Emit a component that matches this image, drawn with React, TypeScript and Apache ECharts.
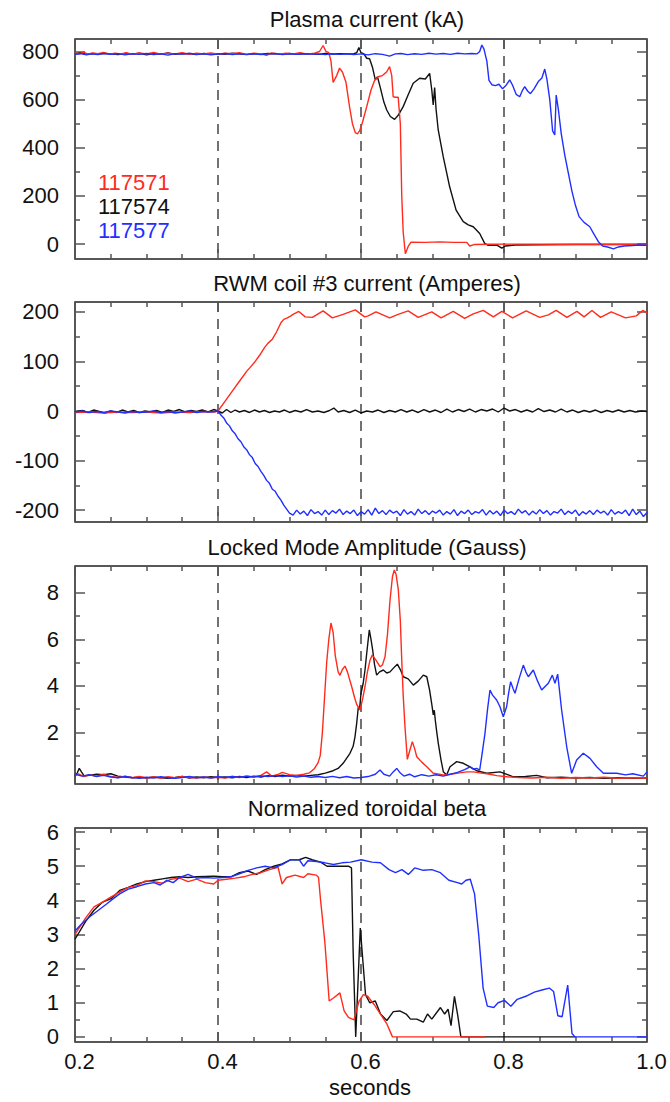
import React, { useEffect, useRef } from "react";
import * as echarts from "echarts";

// ---------- texts ----------
const panelTitles = [
  "Plasma current (kA)",
  "RWM coil #3 current (Amperes)",
  "Locked Mode Amplitude (Gauss)",
  "Normalized toroidal beta",
];
const shots = ["117571", "117574", "117577"];
const shotColors = ["#ff2b1c", "#111111", "#1f2fff"];
const xName = "seconds";

// ---------- axes ----------
const xMin = 0.2;
const xMax = 1.0;
const xStep = 0.2;

const yRanges = [
  [-62, 852],
  [-224, 220],
  [-0.22, 9.15],
  [-0.15, 6.12],
];
const yMajor = [
  [0, 200, 400, 600, 800],
  [-200, -100, 0, 100, 200],
  [2, 4, 6, 8],
  [0, 1, 2, 3, 4, 5, 6],
];
const yMinor = [
  [100, 300, 500, 700],
  [-150, -50, 50, 150],
  [1, 3, 5, 7],
  [0.5, 1.5, 2.5, 3.5, 4.5, 5.5],
];

// ---------- Panel 1: plasma current (kA) ----------
const p1Red = [
  [0.2, 795], [0.206, 790], [0.212, 797], [0.218, 789], [0.225, 794], [0.232, 791], [0.24, 796], [0.248, 789],
  [0.256, 793], [0.264, 790], [0.272, 795], [0.28, 788], [0.29, 794], [0.3, 790], [0.31, 796], [0.32, 789],
  [0.33, 793], [0.34, 790], [0.35, 795], [0.36, 788], [0.37, 793], [0.38, 790], [0.39, 794], [0.4, 789],
  [0.41, 793], [0.42, 791], [0.43, 795], [0.44, 788], [0.45, 793], [0.46, 790], [0.468, 784], [0.475, 794],
  [0.485, 789], [0.495, 793], [0.505, 790], [0.515, 795], [0.525, 789], [0.535, 793], [0.542, 800], [0.547, 825],
  [0.551, 800], [0.555, 795], [0.558, 760], [0.561, 672], [0.566, 700], [0.57, 731], [0.574, 715], [0.579, 672],
  [0.584, 570], [0.588, 500], [0.592, 463], [0.595, 458], [0.598, 470], [0.602, 505], [0.608, 571], [0.614, 640],
  [0.619, 680], [0.624, 695], [0.63, 700], [0.636, 716], [0.64, 737], [0.643, 700], [0.645, 612], [0.648, 610],
  [0.652, 610], [0.655, 500], [0.657, 200], [0.659, 50], [0.662, -40], [0.666, -10], [0.67, 8], [0.69, 7],
  [0.71, 9], [0.73, 7], [0.748, 7], [0.752, -8], [0.758, -2], [0.78, -1], [0.82, 0], [0.88, -1], [0.94, 0], [1.0, -1],
];
const p1Black = [
  [0.2, 790], [0.208, 794], [0.216, 789], [0.224, 792], [0.232, 788], [0.24, 793], [0.25, 790], [0.26, 787],
  [0.27, 792], [0.28, 789], [0.29, 793], [0.3, 786], [0.31, 791], [0.32, 789], [0.33, 794], [0.34, 788],
  [0.35, 792], [0.36, 790], [0.37, 787], [0.38, 792], [0.39, 789], [0.4, 791], [0.41, 788], [0.42, 793],
  [0.43, 790], [0.44, 787], [0.45, 791], [0.46, 789], [0.47, 792], [0.48, 790], [0.49, 788], [0.5, 792],
  [0.51, 789], [0.52, 791], [0.53, 790], [0.54, 788], [0.55, 792], [0.56, 789], [0.57, 791], [0.58, 790],
  [0.59, 791], [0.594, 795], [0.597, 817], [0.6, 795], [0.604, 790], [0.608, 772], [0.612, 770], [0.616, 735],
  [0.62, 682], [0.623, 695], [0.627, 650], [0.632, 590], [0.636, 557], [0.641, 530], [0.647, 518], [0.652, 535],
  [0.659, 571], [0.666, 620], [0.673, 668], [0.682, 689], [0.69, 686], [0.696, 709], [0.699, 640], [0.701, 578],
  [0.703, 650], [0.705, 560], [0.708, 474], [0.715, 363], [0.724, 238], [0.733, 141], [0.743, 93], [0.75, 80],
  [0.757, 72], [0.766, 44], [0.773, 3], [0.778, -5], [0.79, -4], [0.797, -17], [0.802, -8], [0.815, -4],
  [0.85, -3], [0.9, -2], [0.95, -2], [1.0, -2],
];
const p1Blue = [
  [0.2, 788], [0.208, 791], [0.216, 786], [0.224, 790], [0.232, 787], [0.24, 792], [0.25, 788], [0.26, 791],
  [0.27, 786], [0.28, 790], [0.29, 788], [0.3, 792], [0.31, 787], [0.32, 790], [0.33, 785], [0.34, 791],
  [0.35, 789], [0.36, 793], [0.37, 788], [0.38, 790], [0.39, 786], [0.4, 789], [0.41, 792], [0.42, 787],
  [0.43, 790], [0.44, 788], [0.45, 791], [0.46, 787], [0.47, 790], [0.48, 792], [0.49, 787], [0.5, 790],
  [0.51, 788], [0.52, 791], [0.53, 789], [0.54, 790], [0.55, 787], [0.56, 791], [0.57, 788], [0.58, 790],
  [0.59, 787], [0.6, 790], [0.61, 786], [0.62, 791], [0.63, 788], [0.64, 781], [0.648, 790], [0.656, 792],
  [0.665, 787], [0.675, 791], [0.685, 788], [0.695, 793], [0.705, 789], [0.715, 792], [0.725, 788], [0.735, 793],
  [0.745, 790], [0.755, 792], [0.762, 790], [0.766, 800], [0.769, 827], [0.772, 810], [0.776, 760], [0.779, 680],
  [0.783, 662], [0.788, 658], [0.793, 664], [0.798, 645], [0.803, 660], [0.808, 682], [0.812, 660], [0.817, 622],
  [0.822, 612], [0.826, 640], [0.829, 654], [0.833, 636], [0.837, 625], [0.842, 645], [0.848, 675], [0.853, 690],
  [0.857, 727], [0.86, 685], [0.864, 600], [0.868, 470], [0.871, 453], [0.873, 619], [0.876, 560], [0.88, 460],
  [0.885, 370], [0.89, 295], [0.895, 220], [0.9, 160], [0.905, 114], [0.912, 90], [0.92, 72], [0.926, 40],
  [0.932, 10], [0.938, -8], [0.945, -12], [0.953, -20], [0.96, -12], [0.968, -8], [0.98, -6], [0.99, -4], [1.0, -5],
];

// ---------- Panel 2: RWM coil #3 current (A) ----------
const p2Red = [
  [0.2, -3], [0.22, -2], [0.24, -4], [0.26, -2], [0.28, -3], [0.3, -2], [0.32, -4], [0.34, -2], [0.36, -3],
  [0.38, -1], [0.395, -2], [0.4, 0], [0.41, 20], [0.42, 40], [0.43, 60], [0.44, 80], [0.445, 88], [0.452, 100],
  [0.458, 112], [0.465, 128], [0.47, 137], [0.476, 145], [0.482, 160], [0.488, 178], [0.492, 185], [0.497, 188],
  [0.502, 192], [0.505, 195], [0.513, 201], [0.522, 190], [0.532, 189], [0.547, 202], [0.56, 188], [0.575, 195],
  [0.592, 204], [0.605, 190], [0.61, 192], [0.621, 200], [0.64, 188], [0.652, 195], [0.666, 202], [0.68, 189],
  [0.699, 200], [0.712, 188], [0.729, 201], [0.745, 187], [0.757, 196], [0.771, 203], [0.785, 190], [0.797, 201],
  [0.812, 188], [0.831, 202], [0.85, 189], [0.862, 194], [0.873, 203], [0.888, 189], [0.902, 201], [0.912, 190],
  [0.923, 203], [0.935, 189], [0.95, 200], [0.97, 188], [0.985, 192], [0.994, 203], [1.0, 198],
];
const p2Black = [
  [0.2, -2], [0.21, 1], [0.218, -3], [0.226, 2], [0.234, -1], [0.242, -4], [0.25, 0], [0.258, -3], [0.266, 2],
  [0.274, -2], [0.282, 1], [0.29, -3], [0.298, 0], [0.306, -2], [0.314, 1], [0.322, -3], [0.33, 2], [0.338, -1],
  [0.346, 3], [0.354, -2], [0.362, 1], [0.37, -1], [0.378, 2], [0.386, -2], [0.394, 3], [0.4, 0], [0.406, -4],
  [0.412, 3], [0.418, -3], [0.424, 2], [0.43, -2], [0.437, 1], [0.444, -3], [0.451, 2], [0.458, -2], [0.465, 1],
  [0.472, -3], [0.479, 0], [0.486, -2], [0.493, 2], [0.5, -3], [0.508, 1], [0.516, -2], [0.524, 3], [0.532, -2],
  [0.54, 0], [0.548, -3], [0.556, 1], [0.562, 6], [0.568, -2], [0.576, 1], [0.584, -3], [0.592, 2], [0.6, -4],
  [0.608, 0], [0.616, -2], [0.624, 2], [0.632, -3], [0.64, 1], [0.648, -2], [0.656, 3], [0.664, -2], [0.672, 2],
  [0.68, -3], [0.688, 3], [0.696, -2], [0.704, 2], [0.712, -3], [0.72, 4], [0.728, -2], [0.736, 3], [0.744, -1],
  [0.752, 4], [0.76, -2], [0.768, 3], [0.776, 0], [0.784, 4], [0.792, -2], [0.8, 6], [0.808, 0], [0.816, 3],
  [0.824, -2], [0.832, 2], [0.84, -2], [0.848, 5], [0.856, -1], [0.864, 2], [0.872, -2], [0.88, 4], [0.888, -2],
  [0.896, 2], [0.904, -3], [0.912, 1], [0.92, -2], [0.928, 2], [0.936, -3], [0.944, 1], [0.952, -2], [0.96, 2],
  [0.968, -2], [0.976, 1], [0.984, -2], [0.992, 0], [1.0, -1],
];
const p2Blue = [
  [0.2, -2], [0.21, 0], [0.22, -3], [0.23, -1], [0.24, -3], [0.25, 0], [0.26, -2], [0.27, -4], [0.28, -1],
  [0.29, -3], [0.3, -2], [0.31, 0], [0.32, -3], [0.33, -1], [0.34, -4], [0.35, -2], [0.36, 0], [0.37, -3],
  [0.38, -1], [0.39, -2], [0.4, 0], [0.404, -8], [0.408, -14], [0.412, -24], [0.416, -30], [0.42, -40],
  [0.424, -46], [0.428, -56], [0.432, -62], [0.436, -72], [0.44, -78], [0.444, -88], [0.448, -94], [0.452, -106],
  [0.456, -112], [0.46, -122], [0.464, -130], [0.468, -140], [0.472, -146], [0.476, -158], [0.48, -162],
  [0.484, -172], [0.488, -180], [0.492, -190], [0.496, -198], [0.5, -206], [0.505, -210], [0.51, -200],
  [0.515, -208], [0.52, -202], [0.525, -211], [0.53, -199], [0.535, -207], [0.54, -203], [0.545, -210],
  [0.55, -200], [0.555, -209], [0.56, -201], [0.565, -206], [0.57, -198], [0.575, -209], [0.58, -202],
  [0.585, -207], [0.59, -200], [0.595, -211], [0.6, -203], [0.605, -208], [0.61, -199], [0.615, -210],
  [0.62, -196], [0.625, -207], [0.63, -201], [0.635, -209], [0.64, -200], [0.645, -206], [0.65, -202],
  [0.655, -211], [0.66, -199], [0.665, -208], [0.67, -203], [0.675, -210], [0.68, -198], [0.685, -207],
  [0.69, -201], [0.695, -209], [0.7, -202], [0.705, -206], [0.71, -200], [0.715, -210], [0.72, -203],
  [0.725, -208], [0.73, -199], [0.735, -211], [0.74, -202], [0.745, -207], [0.75, -200], [0.755, -209],
  [0.76, -203], [0.765, -206], [0.77, -199], [0.775, -210], [0.78, -201], [0.785, -208], [0.79, -202],
  [0.795, -211], [0.8, -200], [0.805, -207], [0.81, -203], [0.815, -209], [0.82, -198], [0.825, -206],
  [0.83, -201], [0.835, -210], [0.84, -202], [0.845, -208], [0.85, -199], [0.855, -207], [0.86, -201],
  [0.865, -210], [0.87, -203], [0.875, -206], [0.88, -198], [0.885, -209], [0.89, -202], [0.895, -207],
  [0.9, -200], [0.905, -211], [0.91, -203], [0.915, -208], [0.92, -201], [0.925, -209], [0.93, -200],
  [0.935, -206], [0.94, -202], [0.945, -210], [0.95, -199], [0.955, -208], [0.96, -203], [0.965, -207],
  [0.97, -200], [0.975, -211], [0.98, -198], [0.985, -209], [0.99, -202], [0.995, -213], [1.0, -205],
];

// ---------- Panel 3: locked mode amplitude (G) ----------
const p3Red = [
  [0.2, 0.15], [0.205, 0.22], [0.212, 0.1], [0.22, 0.18], [0.23, 0.12], [0.24, 0.2], [0.25, 0.1], [0.26, 0.06],
  [0.27, 0.12], [0.28, 0.05], [0.29, 0.1], [0.3, 0.04], [0.31, 0.08], [0.32, 0.03], [0.33, 0.09], [0.34, 0.05],
  [0.35, 0.1], [0.36, 0.06], [0.37, 0.04], [0.38, 0.08], [0.39, 0.05], [0.4, 0.07], [0.41, 0.04], [0.42, 0.1],
  [0.43, 0.06], [0.44, 0.12], [0.45, 0.08], [0.46, 0.15], [0.468, 0.3], [0.475, 0.12], [0.485, 0.2], [0.49, 0.28],
  [0.5, 0.18], [0.51, 0.15], [0.52, 0.2], [0.528, 0.26], [0.535, 0.45], [0.54, 0.7], [0.543, 1.0], [0.546, 2.0],
  [0.549, 3.5], [0.552, 5.0], [0.555, 6.0], [0.558, 6.7], [0.561, 6.3], [0.564, 5.3], [0.568, 4.6], [0.5706, 4.45],
  [0.574, 4.7], [0.5776, 4.85], [0.581, 4.6], [0.587, 3.96], [0.591, 3.5], [0.594, 3.2], [0.5986, 2.96],
  [0.602, 3.4], [0.6056, 3.96], [0.609, 4.6], [0.6126, 5.1], [0.6157, 5.32], [0.62, 5.15], [0.6266, 4.82],
  [0.63, 4.9], [0.6336, 5.25], [0.637, 6.2], [0.6406, 7.69], [0.644, 8.7], [0.6466, 8.98], [0.649, 8.8],
  [0.6522, 8.12], [0.655, 6.8], [0.657, 5.1], [0.659, 3.6], [0.6615, 2.24], [0.6648, 0.84], [0.668, 1.2],
  [0.6718, 1.6], [0.675, 1.3], [0.678, 0.95], [0.685, 0.72], [0.692, 0.52], [0.7011, 0.24], [0.715, 0.17],
  [0.725, 0.2], [0.738, 0.26], [0.748, 0.3], [0.757, 0.3], [0.766, 0.26], [0.776, 0.22], [0.79, 0.14],
  [0.804, 0.09], [0.82, 0.06], [0.84, 0.04], [0.86, 0.07], [0.88, 0.03], [0.9, 0.06], [0.92, 0.04], [0.94, 0.07],
  [0.96, 0.03], [0.98, 0.05], [1.0, 0.04],
];
const p3Black = [
  [0.2, 0.12], [0.203, 0.25], [0.206, 0.45], [0.209, 0.3], [0.213, 0.12], [0.22, 0.15], [0.23, 0.2], [0.24, 0.18],
  [0.25, 0.22], [0.26, 0.12], [0.27, 0.08], [0.28, 0.05], [0.29, 0.07], [0.3, 0.04], [0.31, 0.08], [0.32, 0.05],
  [0.33, 0.03], [0.34, 0.06], [0.35, 0.1], [0.36, 0.04], [0.37, 0.08], [0.38, 0.05], [0.39, 0.09], [0.4, 0.06],
  [0.41, 0.08], [0.42, 0.05], [0.43, 0.1], [0.44, 0.06], [0.45, 0.12], [0.46, 0.08], [0.47, 0.14], [0.48, 0.1],
  [0.49, 0.16], [0.5, 0.12], [0.51, 0.15], [0.52, 0.12], [0.53, 0.15], [0.54, 0.18], [0.55, 0.25], [0.561, 0.35],
  [0.568, 0.45], [0.575, 0.67], [0.5846, 1.1], [0.589, 1.4], [0.5916, 1.81], [0.594, 2.4], [0.5963, 3.1],
  [0.598, 3.0], [0.6, 3.68], [0.603, 4.1], [0.6056, 4.68], [0.608, 5.4], [0.6116, 6.4], [0.614, 6.0],
  [0.6163, 5.54], [0.619, 4.9], [0.6219, 4.46], [0.626, 4.6], [0.6313, 4.68], [0.636, 4.55], [0.6406, 4.6],
  [0.645, 4.75], [0.6508, 4.93], [0.655, 4.7], [0.6592, 4.39], [0.666, 4.3], [0.6732, 4.03], [0.68, 4.2],
  [0.6872, 4.46], [0.692, 4.39], [0.696, 3.8], [0.6988, 3.25], [0.7011, 2.75], [0.7025, 2.95], [0.704, 2.5],
  [0.706, 2.0], [0.7081, 1.53], [0.712, 0.8], [0.7151, 0.31], [0.7198, 0.17], [0.7245, 0.52], [0.7338, 0.74],
  [0.7431, 0.67], [0.7525, 0.52], [0.7618, 0.35], [0.776, 0.24], [0.7944, 0.3], [0.813, 0.09], [0.83, 0.1],
  [0.8457, 0.15], [0.86, 0.05], [0.88, 0.07], [0.9, 0.04], [0.92, 0.06], [0.94, 0.03], [0.96, 0.05],
  [0.98, 0.02], [1.0, 0.04],
];
const p3Blue = [
  [0.2, 0.2], [0.21, 0.12], [0.22, 0.18], [0.23, 0.1], [0.24, 0.15], [0.25, 0.08], [0.26, 0.05], [0.27, 0.1],
  [0.28, 0.06], [0.29, 0.03], [0.3, 0.07], [0.31, 0.04], [0.32, 0.09], [0.33, 0.05], [0.34, 0.02], [0.35, 0.06],
  [0.36, 0.1], [0.37, 0.05], [0.38, 0.08], [0.39, 0.04], [0.4, 0.09], [0.41, 0.06], [0.42, 0.11], [0.43, 0.07],
  [0.44, 0.12], [0.45, 0.08], [0.46, 0.13], [0.47, 0.1], [0.48, 0.14], [0.49, 0.1], [0.5, 0.13], [0.51, 0.08],
  [0.52, 0.12], [0.53, 0.07], [0.54, 0.1], [0.55, 0.06], [0.56, 0.11], [0.57, 0.05], [0.58, 0.1], [0.59, 0.04],
  [0.6, 0.06], [0.61, 0.1], [0.62, 0.2], [0.6266, 0.38], [0.632, 0.2], [0.64, 0.12], [0.645, 0.3], [0.65, 0.45],
  [0.655, 0.25], [0.66, 0.12], [0.668, 0.2], [0.675, 0.09], [0.685, 0.18], [0.695, 0.12], [0.705, 0.18],
  [0.715, 0.12], [0.725, 0.2], [0.735, 0.28], [0.745, 0.4], [0.7525, 0.52], [0.757, 0.42], [0.7618, 0.45],
  [0.766, 0.38], [0.769, 1.0], [0.7734, 1.96], [0.777, 3.0], [0.7804, 3.82], [0.784, 3.6], [0.7897, 3.39],
  [0.7944, 3.1], [0.799, 2.67], [0.8037, 3.1], [0.8065, 3.7], [0.8093, 4.18], [0.8125, 3.9], [0.8154, 3.68],
  [0.821, 4.3], [0.827, 4.89], [0.8305, 4.6], [0.834, 4.39], [0.841, 4.68], [0.847, 4.2], [0.8527, 3.82],
  [0.862, 4.11], [0.8676, 4.46], [0.8713, 4.11], [0.8751, 4.5], [0.8806, 2.96], [0.8877, 1.38], [0.8946, 0.24],
  [0.9016, 0.81], [0.9109, 1.1], [0.9203, 0.88], [0.9296, 0.52], [0.939, 0.24], [0.9576, 0.24], [0.97, 0.17],
  [0.98, 0.22], [0.9949, 0.12], [1.0, 0.3],
];

// ---------- Panel 4: normalized toroidal beta ----------
const p4Red = [
  [0.2, 3.0], [0.2147, 3.48], [0.2266, 3.81], [0.2386, 3.95], [0.2506, 4.1], [0.2625, 4.24], [0.2745, 4.38],
  [0.2865, 4.43], [0.2984, 4.57], [0.3104, 4.55], [0.3223, 4.5], [0.3343, 4.62], [0.3463, 4.65], [0.3582, 4.55],
  [0.3702, 4.62], [0.3822, 4.52], [0.3941, 4.48], [0.4, 4.59], [0.412, 4.62], [0.424, 4.65], [0.436, 4.69],
  [0.448, 4.76], [0.46, 4.81], [0.472, 4.9], [0.484, 4.97], [0.4897, 4.48], [0.4958, 4.67], [0.5077, 4.74],
  [0.5197, 4.67], [0.5257, 4.78], [0.5376, 4.74], [0.5406, 4.67], [0.5435, 4.0], [0.5495, 2.76], [0.5555, 1.05],
  [0.5615, 1.14], [0.5705, 1.29], [0.5764, 0.76], [0.5824, 0.57], [0.5902, 0.5], [0.5973, 1.05], [0.6033, 1.24],
  [0.6093, 1.19], [0.6183, 0.95], [0.6302, 0.57], [0.6362, 0.38], [0.644, 0.0], [0.7, 0.0], [0.775, 0.0],
];
const p4Black = [
  [0.2, 2.86], [0.2147, 3.38], [0.2266, 3.71], [0.2386, 3.95], [0.2506, 4.05], [0.2625, 4.29], [0.2745, 4.38],
  [0.2865, 4.48], [0.2984, 4.55], [0.3104, 4.59], [0.3223, 4.63], [0.3343, 4.67], [0.3463, 4.69], [0.3582, 4.67],
  [0.3702, 4.69], [0.3822, 4.7], [0.3941, 4.71], [0.4061, 4.69], [0.418, 4.69], [0.43, 4.81], [0.442, 4.86],
  [0.454, 4.76], [0.466, 4.9], [0.478, 5.0], [0.4897, 5.07], [0.5017, 5.19], [0.5137, 5.19], [0.5226, 5.26],
  [0.5316, 5.19], [0.5435, 5.12], [0.5525, 5.0], [0.5674, 5.0], [0.5824, 5.0], [0.5867, 4.95], [0.589, 2.5],
  [0.5926, 0.0], [0.599, 3.19], [0.6063, 1.24], [0.6122, 1.0], [0.62, 1.05], [0.6273, 0.67], [0.6362, 0.48],
  [0.6452, 0.74], [0.6542, 0.76], [0.6632, 0.67], [0.6692, 0.52], [0.6781, 0.52], [0.6871, 0.43], [0.693, 0.67],
  [0.699, 0.52], [0.7111, 0.86], [0.717, 0.67], [0.7218, 0.81], [0.7259, 0.33], [0.7307, 1.19], [0.735, 0.67],
  [0.7397, 0.0], [0.8, 0.0], [0.9, 0.0],
];
const p4Blue = [
  [0.2, 3.1], [0.2084, 3.29], [0.2207, 3.52], [0.2327, 3.71], [0.2446, 3.9], [0.2536, 4.05], [0.2625, 4.19],
  [0.2745, 4.33], [0.2865, 4.4], [0.2984, 4.48], [0.3104, 4.52], [0.3193, 4.45], [0.3283, 4.59], [0.3373, 4.52],
  [0.3463, 4.67], [0.3582, 4.76], [0.3702, 4.65], [0.3822, 4.67], [0.3941, 4.65], [0.4061, 4.67], [0.418, 4.69],
  [0.43, 4.78], [0.442, 4.88], [0.454, 4.95], [0.466, 5.0], [0.478, 4.95], [0.4897, 5.05], [0.5017, 5.19],
  [0.5137, 5.19], [0.5197, 5.0], [0.5257, 5.16], [0.5376, 5.14], [0.5495, 5.1], [0.5615, 5.05], [0.5734, 5.1],
  [0.5854, 5.12], [0.6003, 5.19], [0.6153, 5.12], [0.6272, 5.1], [0.6392, 4.9], [0.6482, 4.81], [0.6572, 4.9],
  [0.6662, 4.76], [0.6751, 4.95], [0.6871, 4.88], [0.699, 4.9], [0.711, 4.81], [0.7229, 4.59], [0.7349, 4.52],
  [0.7409, 4.48], [0.7468, 4.59], [0.7528, 4.62], [0.7588, 4.19], [0.7648, 2.95], [0.7708, 1.43], [0.7767, 0.9],
  [0.7857, 0.86], [0.7917, 1.0], [0.8006, 1.07], [0.8096, 0.9], [0.8185, 1.1], [0.8305, 1.19], [0.8424, 1.31],
  [0.8544, 1.38], [0.8634, 1.43], [0.8693, 1.33], [0.8753, 0.62], [0.8813, 0.59], [0.8891, 1.52], [0.8951, 0.1],
  [0.8993, 0.0], [0.95, 0.0], [1.0, 0.0],
];

const panelData = [
  [p1Red, p1Black, p1Blue],
  [p2Red, p2Black, p2Blue],
  [p3Red, p3Black, p3Blue],
  [p4Red, p4Black, p4Blue],
];

// ---------- layout (pixels) ----------
const gridTops = [39, 302, 566, 828];
const gridHeights = [220, 220, 218, 214];
const titleYs = [19, 283, 547, 808];
const legendYs = [182, 206, 230];
const FONT = '"Liberation Sans", Arial, Helvetica, sans-serif';
const tickColor = "#555";

export default function App() {
  const ref = useRef<HTMLDivElement>(null);

  useEffect(() => {
    if (!ref.current) return;
    const chart = echarts.init(ref.current, undefined, { renderer: "svg" });

    const grids = gridTops.map((top, g) => ({
      left: 75,
      right: 23,
      top,
      height: gridHeights[g],
      show: true,
      borderColor: "#222",
      borderWidth: 1.5,
      backgroundColor: "transparent",
      containLabel: false,
      outerBoundsMode: "none",
    }));

    const xAxes: any[] = [];
    const yAxes: any[] = [];
    gridTops.forEach((_, g) => {
      const last = g === gridTops.length - 1;
      const base = {
        type: "value",
        gridIndex: g,
        min: xMin,
        max: xMax,
        interval: xStep,
        axisLine: { show: false, onZero: false },
        axisTick: { show: true, inside: true, length: 10, lineStyle: { color: tickColor, width: 1.5 } },
        minorTick: { show: true, splitNumber: 4, length: 5, lineStyle: { color: tickColor, width: 1.5 } },
      };
      xAxes.push({
        ...base,
        position: "bottom",
        axisLabel: {
          show: last,
          margin: 8,
          fontSize: 22,
          fontFamily: FONT,
          color: "#111",
          padding: [0, 0, 0, 9],
          formatter: (v: number) => v.toFixed(1),
        },
        splitLine: {
          show: true,
          showMinLine: false,
          showMaxLine: false,
          lineStyle: { type: [10, 7], color: "#444", width: 1.5 },
        },
        name: last ? xName : "",
        nameLocation: "middle",
        nameGap: 34,
        nameTextStyle: { fontSize: 22, fontFamily: FONT, color: "#111", padding: [0, 0, 0, 18] },
      });
      xAxes.push({
        ...base,
        position: "top",
        axisLabel: { show: false },
        splitLine: { show: false },
      });

      const [ymin, ymax] = yRanges[g];
      const yBase = {
        type: "value",
        gridIndex: g,
        min: ymin,
        max: ymax,
        axisLine: { show: false, onZero: false },
        splitLine: { show: false },
      };
      (["left", "right"] as const).forEach((pos) => {
        yAxes.push({
          ...yBase,
          position: pos,
          axisTick: {
            show: true,
            inside: true,
            length: 10,
            customValues: yMajor[g],
            lineStyle: { color: tickColor, width: 1.5 },
          },
          axisLabel: {
            show: pos === "left",
            customValues: yMajor[g],
            margin: 16,
            fontSize: 22,
            fontFamily: FONT,
            color: "#111",
          },
        });
        yAxes.push({
          ...yBase,
          position: pos,
          axisTick: {
            show: true,
            inside: true,
            length: 5,
            customValues: yMinor[g],
            lineStyle: { color: tickColor, width: 1.5 },
          },
          axisLabel: { show: false },
        });
      });
    });

    const drawOrder = [1, 0, 2];
    const series: any[] = [];
    panelData.forEach((trio, g) => {
      drawOrder.forEach((k) => {
        series.push({
          type: "line",
          name: shots[k] + "-" + g,
          xAxisIndex: g * 2,
          yAxisIndex: g * 4,
          data: trio[k],
          showSymbol: false,
          symbol: "none",
          clip: true,
          silent: true,
          lineStyle: { color: shotColors[k], width: 1.4 },
          itemStyle: { color: shotColors[k] },
        });
      });
    });

    const graphic: any[] = [
      ...panelTitles.map((t, i) => ({
        type: "text",
        x: 367,
        y: titleYs[i],
        style: {
          text: t,
          fill: "#111",
          fontSize: 22,
          fontFamily: FONT,
          align: "center",
          verticalAlign: "middle",
          textAlign: "center",
          textVerticalAlign: "middle",
        },
      })),
      ...shots.map((s, k) => ({
        type: "text",
        x: 98,
        y: legendYs[k],
        style: {
          text: s,
          fill: shotColors[k],
          fontSize: 22,
          fontFamily: FONT,
          align: "left",
          verticalAlign: "middle",
          textAlign: "left",
          textVerticalAlign: "middle",
        },
      })),
    ];

    chart.setOption({
      animation: false,
      backgroundColor: "#ffffff",
      grid: grids,
      xAxis: xAxes,
      yAxis: yAxes,
      series,
      graphic,
    });

    return () => chart.dispose();
  }, []);

  return (
    <div
      ref={ref}
      style={{ position: "absolute", left: 0, top: 0, width: 670, height: 1102 }}
    />
  );
}
